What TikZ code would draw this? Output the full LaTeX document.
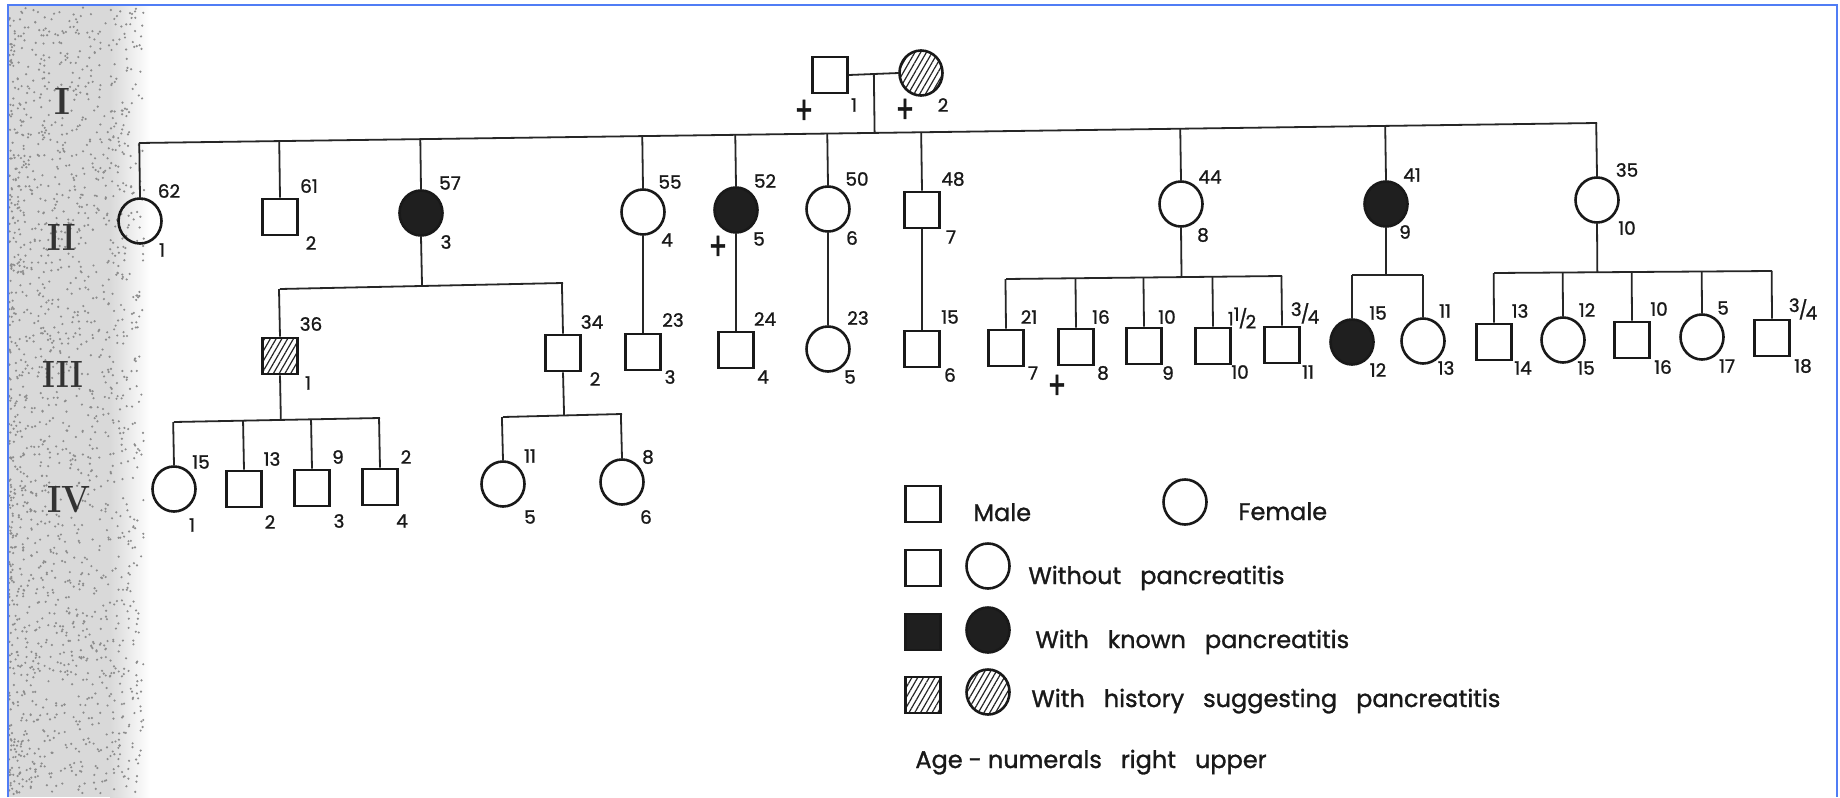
\documentclass[tikz,border=0pt]{standalone}
\usepackage{fontspec}
\newfontfamily\legfont[FakeBold=1.2]{Poppins}
\newfontfamily\numfont[FakeBold=1.2]{Poppins}
\usetikzlibrary{shapes.geometric,patterns.meta,calc}
\definecolor{frameblue}{RGB}{80,125,245}
\newcommand\frc[2]{\raisebox{0.45ex}{#1}\kern-0.05em/\kern-0.1em\raisebox{-0.3ex}{#2}}
\newcommand\crs{\scalebox{0.9}[1.3]{+}}
\newcommand\legsetup{\legfont\fontsize{12}{14}\selectfont\spaceskip=9.5pt plus 1pt\relax}
\begin{document}
\begin{tikzpicture}[x=0.5pt,y=-0.5pt,
  shp/.style={draw=black!90, line width=1.3pt, inner sep=0pt},
  male/.style={shp, rectangle, minimum width=17.5pt, minimum height=18pt},
  female/.style={shp, ellipse, minimum width=21.5pt, minimum height=22.5pt},
  aff/.style={fill=black!88},
  hat/.style={pattern={Lines[angle=60,distance=2.5pt,line width=0.6pt]}, pattern color=black!85},
  con/.style={line width=0.9pt, draw=black!85},
  lab/.style={font=\numfont\fontsize{9.2}{10}\selectfont, inner sep=0pt, text=black!90},
  dead/.style={font=\numfont\fontsize{15}{16}\selectfont, inner sep=0pt, text=black!90},
  gen/.style={font=\bfseries\fontsize{19}{22}\selectfont, inner sep=0pt, text=black!80},
  leg/.style={font=\legsetup, inner sep=0pt, anchor=base west, text=black!90}
]
\useasboundingbox (0,0) rectangle (1840,797);
\fill[white] (0,0) rectangle (1840,797);
% scanned grey margin
\fill[black!15] (9,6) rectangle (110,797);
\shade[left color=black!15, right color=white] (110,6) rectangle (150,797);
\pgfmathsetseed{12}
\foreach \k in {1,...,1800}{
  \pgfmathsetmacro\xx{9+135*rnd^1.4}
  \pgfmathsetmacro\yy{7+788*rnd}
  \fill[black!45] (\xx,\yy) circle (0.6pt);
}
\draw[frameblue, line width=1.1pt] (8,797) -- (8,5) -- (1837,5) -- (1837,797);

% generation numerals
\node[gen] (gI) at (62,101) {I};
\node[gen] (gII) at (62,237) {\scalebox{0.85}[1]{II}};
\node[gen] (gIII) at (63,374) {\scalebox{0.8}[1]{III}};
\node[gen] (gIV) at (69,500) {\scalebox{0.9}[1]{IV}};

% ---------- generation I ----------
\node[male] (I1) at (830,75) {};
\node[female,hat] (I2) at (921,73) {};
\node[dead] (dI1) at (804,112) {\crs};
\node[lab] (nI1) at (854,105) {1};
\node[dead] (dI2) at (905,111) {\crs};
\node[lab] (nI2) at (943,105) {2};
\draw[con] (I1.east) -- (I2.west);
\coordinate (m1) at ($(I1.east)!0.5!(I2.west)$);

% ---------- generation II ----------
\coordinate (s2L) at (139,143);
\coordinate (s2R) at (1597,123);
\draw[con] (s2L) -- (s2R);
\draw[con] (m1) -- ($(s2L)!(m1)!(s2R)$);

\node[female] (II1) at (140,221) {};
\node[male] (II2) at (280,217) {};
\node[female,aff] (II3) at (421,213) {};
\node[female] (II4) at (643,212) {};
\node[female,aff] (II5) at (736,210) {};
\node[female] (II6) at (828,209) {};
\node[male] (II7) at (922,210) {};
\node[female] (II8) at (1181,204) {};
\node[female,aff] (II9) at (1386,204) {};
\node[female] (II10) at (1597,200) {};
\foreach \n in {II1,II2,II3,II4,II5,II6,II7,II8,II9,II10}{
  \draw[con] (\n.north) -- ($(s2L)!(\n.north)!(s2R)$);
}
\node[lab] (aII1) at (169,191) {62};  \node[lab] (nII1) at (162,250) {1};
\node[lab] (aII2) at (309,186) {61};  \node[lab] (nII2) at (311,243) {2};
\node[lab] (aII3) at (450,183) {57};  \node[lab] (nII3) at (446,242) {3};
\node[lab] (aII4) at (670,182) {55};  \node[lab] (nII4) at (667,240) {4};
\node[lab] (aII5) at (765,181) {52};  \node[lab] (nII5) at (759,239) {5};
\node[dead] (dII5) at (718,248) {\crs};
\node[lab] (aII6) at (857,179) {50};  \node[lab] (nII6) at (852,238) {6};
\node[lab] (aII7) at (953,179) {48};  \node[lab] (nII7) at (951,237) {7};
\node[lab] (aII8) at (1210,177) {44}; \node[lab] (nII8) at (1203,235) {8};
\node[lab] (aII9) at (1412,175) {41}; \node[lab] (nII9) at (1405,232) {9};
\node[lab] (aII10) at (1627,170) {35}; \node[lab] (nII10) at (1627,228) {10};

% ---------- generation III ----------
\node[male,hat] (III1) at (280,356) {};
\node[male] (III2) at (563,353) {};
\node[male] (III3) at (643,352) {};
\node[male] (III4) at (736,350) {};
\node[female] (III5) at (828,349) {};
\node[male] (III6) at (922,349) {};
\node[male] (III7) at (1006,348) {};
\node[male] (III8) at (1076,347) {};
\node[male] (III9) at (1144,346) {};
\node[male] (III10) at (1213,346) {};
\node[male] (III11) at (1282,345) {};
\node[female,aff] (III12) at (1352,342) {};
\node[female] (III13) at (1423,341) {};
\node[male] (III14) at (1494,342) {};
\node[female] (III15) at (1563,340) {};
\node[male] (III16) at (1632,340) {};
\node[female] (III17) at (1702,337) {};
\node[male] (III18) at (1772,338) {};

% sibship of II-3
\coordinate (k3L) at (280,289);
\coordinate (k3R) at (563,283);
\draw[con] (k3L) -- (k3R);
\draw[con] (II3.south) -- ($(k3L)!(II3.south)!(k3R)$);
\foreach \n in {III1,III2}{\draw[con] (\n.north) -- ($(k3L)!(\n.north)!(k3R)$);}
% single children
\draw[con] (II4.south) -- (III3.north);
\draw[con] (II5.south) -- (III4.north);
\draw[con] (II6.south) -- (III5.north);
\draw[con] (II7.south) -- (III6.north);
% sibship of II-8
\coordinate (k8L) at (1006,279);
\coordinate (k8R) at (1282,276);
\draw[con] (k8L) -- (k8R);
\draw[con] (II8.south) -- ($(k8L)!(II8.south)!(k8R)$);
\foreach \n in {III7,III8,III9,III10,III11}{\draw[con] (\n.north) -- ($(k8L)!(\n.north)!(k8R)$);}
% sibship of II-9
\coordinate (k9L) at (1352,275);
\coordinate (k9R) at (1423,275);
\draw[con] (k9L) -- (k9R);
\draw[con] (II9.south) -- ($(k9L)!(II9.south)!(k9R)$);
\foreach \n in {III12,III13}{\draw[con] (\n.north) -- ($(k9L)!(\n.north)!(k9R)$);}
% sibship of II-10
\coordinate (k10L) at (1494,273);
\coordinate (k10R) at (1772,271);
\draw[con] (k10L) -- (k10R);
\draw[con] (II10.south) -- ($(k10L)!(II10.south)!(k10R)$);
\foreach \n in {III14,III15,III16,III17,III18}{\draw[con] (\n.north) -- ($(k10L)!(\n.north)!(k10R)$);}

\node[lab] (aIII1) at (311,324) {36};  \node[lab] (nIII1) at (308,383) {1};
\node[lab] (aIII2) at (592,322) {34};  \node[lab] (nIII2) at (595,379) {2};
\node[lab] (aIII3) at (673,320) {23};  \node[lab] (nIII3) at (670,377) {3};
\node[lab] (aIII4) at (765,319) {24};  \node[lab] (nIII4) at (763,377) {4};
\node[lab] (aIII5) at (858,318) {23};  \node[lab] (nIII5) at (850,377) {5};
\node[lab] (aIII6) at (950,317) {15};  \node[lab] (nIII6) at (950,375) {6};
\node[lab] (aIII7) at (1029,317) {21}; \node[lab] (nIII7) at (1033,373) {7};
\node[lab] (aIII8) at (1101,317) {16}; \node[lab] (nIII8) at (1103,373) {8};
\node[dead] (dIII8) at (1057,387) {\crs};
\node[lab] (aIII9) at (1167,317) {10}; \node[lab] (nIII9) at (1168,373) {9};
\node[lab] (aIII10) at (1242,318) {1\frc{1}{2}}; \node[lab] (nIII10) at (1240,372) {10};
\node[lab] (aIII11) at (1305,313) {\frc{3}{4}}; \node[lab] (nIII11) at (1308,372) {11};
\node[lab] (aIII12) at (1378,313) {15}; \node[lab] (nIII12) at (1378,370) {12};
\node[lab] (aIII13) at (1445,311) {11}; \node[lab] (nIII13) at (1446,368) {13};
\node[lab] (aIII14) at (1520,311) {13}; \node[lab] (nIII14) at (1523,368) {14};
\node[lab] (aIII15) at (1587,310) {12}; \node[lab] (nIII15) at (1586,368) {15};
\node[lab] (aIII16) at (1659,309) {10}; \node[lab] (nIII16) at (1663,367) {16};
\node[lab] (aIII17) at (1723,308) {5};  \node[lab] (nIII17) at (1727,366) {17};
\node[lab] (aIII18) at (1803,309) {\frc{3}{4}}; \node[lab] (nIII18) at (1803,366) {18};

% ---------- generation IV ----------
\node[female] (IV1) at (174,489) {};
\node[male] (IV2) at (244,489) {};
\node[male] (IV3) at (312,488) {};
\node[male] (IV4) at (380,487) {};
\node[female] (IV5) at (503,484) {};
\node[female] (IV6) at (622,482) {};
\coordinate (k31L) at (174,422);
\coordinate (k31R) at (380,418);
\draw[con] (k31L) -- (k31R);
\draw[con] (III1.south) -- ($(k31L)!(III1.south)!(k31R)$);
\foreach \n in {IV1,IV2,IV3,IV4}{\draw[con] (\n.north) -- ($(k31L)!(\n.north)!(k31R)$);}
\coordinate (k32L) at (503,417);
\coordinate (k32R) at (622,414);
\draw[con] (k32L) -- (k32R);
\draw[con] (III2.south) -- ($(k32L)!(III2.south)!(k32R)$);
\foreach \n in {IV5,IV6}{\draw[con] (\n.north) -- ($(k32L)!(\n.north)!(k32R)$);}

\node[lab] (aIV1) at (201,462) {15}; \node[lab] (nIV1) at (192,525) {1};
\node[lab] (aIV2) at (272,459) {13}; \node[lab] (nIV2) at (270,522) {2};
\node[lab] (aIV3) at (338,457) {9};  \node[lab] (nIV3) at (339,521) {3};
\node[lab] (aIV4) at (406,457) {2};  \node[lab] (nIV4) at (402,521) {4};
\node[lab] (aIV5) at (530,456) {11}; \node[lab] (nIV5) at (530,517) {5};
\node[lab] (aIV6) at (648,457) {8};  \node[lab] (nIV6) at (646,517) {6};

% ---------- legend ----------
\node[male] (L1) at (923,504) {};
\node[leg] (tL1) at (973,521) {Male};
\node[female] (L2) at (1185,502) {};
\node[leg] (tL2) at (1238,520) {Female};
\node[male] (L3) at (923,568) {};
\node[female] (L4) at (988,566) {};
\node[leg] (tL3) at (1028,584) {Without pancreatitis};
\node[male,aff] (L5) at (923,632) {};
\node[female,aff] (L6) at (988,630) {};
\node[leg] (tL5) at (1035,648) {With known pancreatitis};
\node[male,hat] (L7) at (923,695) {};
\node[female,hat] (L8) at (988,692) {};
\node[leg] (tL7) at (1031,707) {With history suggesting pancreatitis};
\node[leg] (tL9) at (915,768) {Age\kern3pt-\kern3pt numerals right upper};
\end{tikzpicture}
\end{document}
